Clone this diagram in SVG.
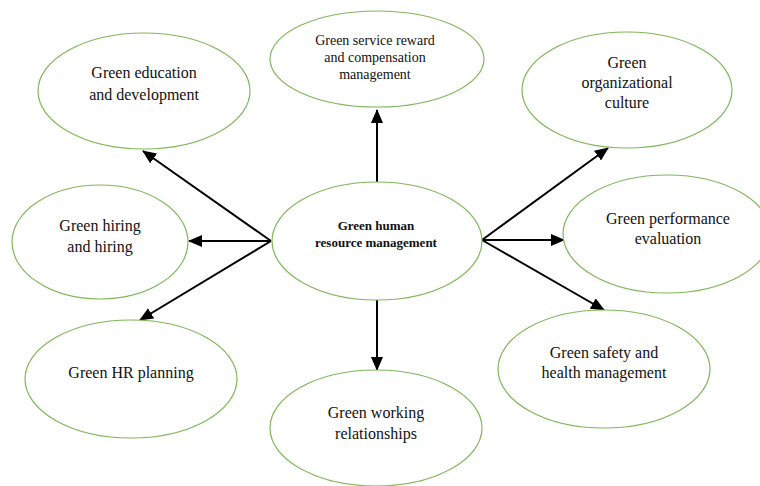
<svg xmlns="http://www.w3.org/2000/svg" width="760" height="486" viewBox="0 0 760 486">
<style>
.node ellipse{fill:#ffffff;stroke:#7fb85a;stroke-width:1.2}
.t{font-family:"Liberation Serif","Times New Roman",serif;font-size:16px;fill:#111;text-anchor:middle}
.s{font-size:14px}
.b{font-size:13px;font-weight:bold}
.conn line{stroke:#000;stroke-width:2}
</style>
<defs>
<marker id="ah" markerUnits="userSpaceOnUse" markerWidth="14" markerHeight="12" refX="13" refY="6" orient="auto">
<path d="M0,0 L14,6 L0,12 Z" fill="#000"/>
</marker>
</defs>
<rect width="760" height="486" fill="#fff"/>
<g class="conn">
<line x1="377" y1="182" x2="377" y2="110" marker-end="url(#ah)"/>
<line x1="377" y1="300" x2="377" y2="370" marker-end="url(#ah)"/>
<line x1="271" y1="241" x2="143" y2="151" marker-end="url(#ah)"/>
<line x1="271" y1="241" x2="189" y2="241" marker-end="url(#ah)"/>
<line x1="271" y1="241" x2="140" y2="320" marker-end="url(#ah)"/>
<line x1="482" y1="240" x2="608" y2="148" marker-end="url(#ah)"/>
<line x1="482" y1="240" x2="564" y2="240" marker-end="url(#ah)"/>
<line x1="482" y1="240" x2="604" y2="310" marker-end="url(#ah)"/>
</g>
<g id="center" class="node">
<ellipse cx="377" cy="241" rx="105" ry="59"/>
<text class="t b" x="376" y="230">Green human</text>
<text class="t b" x="376" y="247">resource management</text>
</g>
<g id="reward" class="node">
<ellipse cx="377" cy="59" rx="107" ry="48"/>
<text class="t s" x="375" y="45">Green service reward</text>
<text class="t s" x="375" y="62">and compensation</text>
<text class="t s" x="375" y="79">management</text>
</g>
<g id="education" class="node">
<ellipse cx="144" cy="91" rx="106" ry="58"/>
<text class="t" x="144" y="78">Green education</text>
<text class="t" x="144" y="100">and development</text>
</g>
<g id="culture" class="node">
<ellipse cx="627" cy="90" rx="105" ry="58"/>
<text class="t" x="627" y="68">Green</text>
<text class="t" x="627" y="88">organizational</text>
<text class="t" x="627" y="108">culture</text>
</g>
<g id="hiring" class="node">
<ellipse cx="100" cy="242" rx="88" ry="57"/>
<text class="t" x="100" y="231">Green hiring</text>
<text class="t" x="100" y="252">and hiring</text>
</g>
<g id="planning" class="node">
<ellipse cx="131" cy="379" rx="106" ry="59"/>
<text class="t" x="131" y="378">Green HR planning</text>
</g>
<g id="performance" class="node">
<ellipse cx="667" cy="234" rx="104" ry="59"/>
<text class="t" x="668" y="224">Green performance</text>
<text class="t" x="668" y="244">evaluation</text>
</g>
<g id="safety" class="node">
<ellipse cx="604" cy="369" rx="106" ry="59"/>
<text class="t" x="604" y="358">Green safety and</text>
<text class="t" x="604" y="378">health management</text>
</g>
<g id="working" class="node">
<ellipse cx="376" cy="428" rx="106" ry="58"/>
<text class="t" x="376" y="418">Green working</text>
<text class="t" x="376" y="439">relationships</text>
</g>
</svg>
